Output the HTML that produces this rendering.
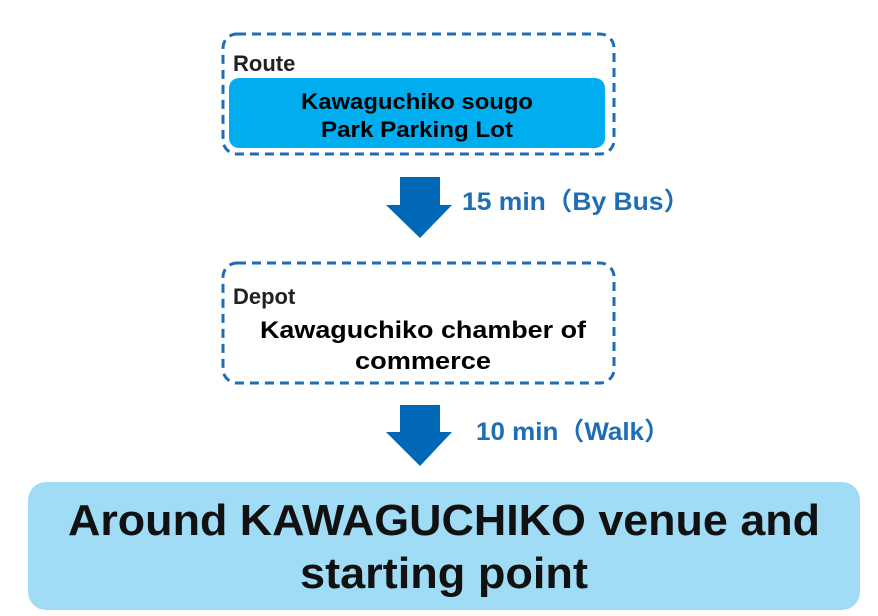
<!DOCTYPE html>
<html><head><meta charset="utf-8"><style>html,body{margin:0;padding:0;background:#fff;width:878px;height:616px;overflow:hidden}svg{display:block}text{font-family:"Liberation Sans","Noto Sans CJK JP",sans-serif;font-weight:bold}</style></head><body>
<svg width="878" height="616" viewBox="0 0 878 616" xmlns="http://www.w3.org/2000/svg">
<rect x="223" y="34" width="391" height="120" rx="14" fill="none" stroke="#1E6DB5" stroke-width="3" stroke-dasharray="9,6"/>
<text x="233" y="71" font-size="22" fill="#222">Route</text>
<rect x="229" y="78" width="376" height="70" rx="10" fill="#00AEEF"/>
<text x="417" y="109" font-size="22" fill="#000" text-anchor="middle" textLength="232" lengthAdjust="spacingAndGlyphs">Kawaguchiko sougo</text>
<text x="417" y="137" font-size="22" fill="#000" text-anchor="middle" textLength="192" lengthAdjust="spacingAndGlyphs">Park Parking Lot</text>
<polygon points="400,177 440,177 440,205 452,205 420,238 386,205 400,205" fill="#0068B7"/>
<text x="462" y="210" font-size="25" fill="#1E6DB5" textLength="228" lengthAdjust="spacingAndGlyphs">15 min（By Bus）</text>
<rect x="223" y="263" width="391" height="120" rx="14" fill="none" stroke="#1E6DB5" stroke-width="3" stroke-dasharray="9,6"/>
<text x="233" y="304" font-size="22" fill="#222">Depot</text>
<text x="423" y="338" font-size="24" fill="#000" text-anchor="middle" textLength="326" lengthAdjust="spacingAndGlyphs">Kawaguchiko chamber of</text>
<text x="423" y="369" font-size="24" fill="#000" text-anchor="middle" textLength="136" lengthAdjust="spacingAndGlyphs">commerce</text>
<polygon points="400,405 440,405 440,432 452,432 420,466 386,432 400,432" fill="#0068B7"/>
<text x="476" y="440" font-size="25" fill="#1E6DB5" textLength="194" lengthAdjust="spacingAndGlyphs">10 min（Walk）</text>
<rect x="28" y="482" width="832" height="128" rx="18" fill="#A0DCF5"/>
<text x="444" y="535" font-size="44" fill="#111" text-anchor="middle" textLength="752" lengthAdjust="spacingAndGlyphs">Around KAWAGUCHIKO venue and</text>
<text x="444" y="588" font-size="44" fill="#111" text-anchor="middle" textLength="288" lengthAdjust="spacingAndGlyphs">starting point</text>
</svg>
</body></html>
